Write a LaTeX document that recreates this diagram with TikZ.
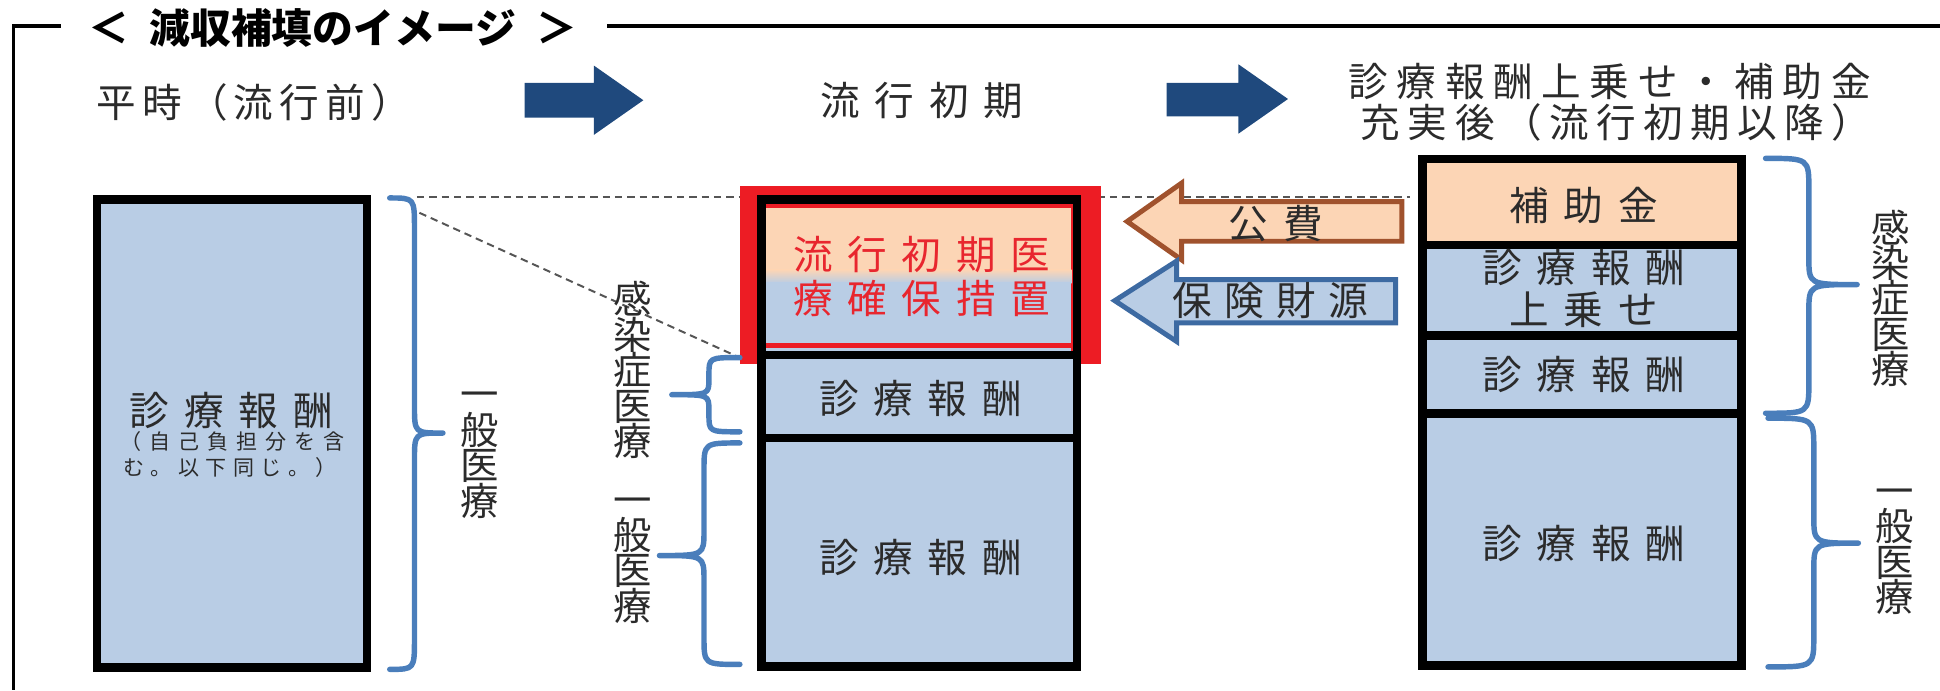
\documentclass[tikz,border=0pt]{standalone}
\usepackage{fontspec}
\newfontfamily\jp{Noto Sans CJK JP}
\definecolor{boxblue}{HTML}{B9CDE5}
\definecolor{peach}{HTML}{FCD5B5}
\definecolor{braceblue}{HTML}{4A7EBB}
\definecolor{arrowblue}{HTML}{1F497D}
\definecolor{redbox}{HTML}{ED1C24}
\definecolor{redtext}{HTML}{E8262E}
\definecolor{brownline}{HTML}{A0522D}
\definecolor{blueline}{HTML}{3D6AA2}
\definecolor{txtc}{HTML}{2B2B2B}
\definecolor{dashc}{HTML}{555555}
\makeatletter
\newcommand\spc[2]{\def\spc@sep{}\@tfor\spc@c:=#2\do{\spc@sep\spc@c\def\spc@sep{\kern#1}}}
\makeatother
\newcommand\brc[8]{\draw[brace] (#1,#4) .. controls (#2,#4) .. (#2,#4+#7) -- (#2,#5-#8) .. controls (#2,#5) .. (#3,#5) .. controls (#2,#5) .. (#2,#5+#8) -- (#2,#6-#7) .. controls (#2,#6) .. (#1,#6);}
\begin{document}
\begin{tikzpicture}[x=0.5pt,y=-0.5pt,
  frame/.style={draw=black, line width=1.4pt},
  blk/.style={draw=black, line width=3.5pt},
  brace/.style={draw=braceblue, line width=2.2pt, line cap=round, line join=round},
  txt/.style={font=\jp\fontsize{16}{18}\selectfont, text=txtc, inner sep=0pt},
  vtxt/.style={font=\jp\fontsize{15.5}{14.3}\selectfont, text=txtc, align=center, inner sep=0pt},
  small/.style={font=\jp\fontsize{8.5}{10}\selectfont, text=txtc, inner sep=0pt},
  redt/.style={txt, text=redtext},
  titlet/.style={font=\jp\bfseries\fontsize{16.5}{19}\selectfont, text=black, inner sep=0pt},
  dashl/.style={draw=dashc, line width=0.8pt, dash pattern=on 3pt off 2pt},
]
\useasboundingbox (0,0) rectangle (1568,558);
% frame
\coordinate (f0) at (11,21);
\coordinate (f1) at (49,21);
\coordinate (f2) at (11,558);
\coordinate (f3) at (491,21);
\coordinate (f4) at (1568,21);
\draw[frame] (f1) -- (f0) -- (f2);
\draw[frame] (f3) -- (f4);
\node[titlet] (title) at (269,23) {＜\hspace{0.5em}減収補填のイメージ\hspace{0.5em}＞};
% headers
\node[txt] (h1) at (205,83) {\spc{2.5pt}{平時（流行前）}};
\node[txt] (h2) at (745,81) {\spc{6pt}{流行初期}};
\node[txt] (h3a) at (1301,66) {\spc{3.5pt}{診療報酬上乗せ・補助金}};
\node[txt] (h3b) at (1306,99) {\spc{3pt}{充実後（流行初期以降）}};
% top arrows
\fill[arrowblue] (424,67) -- (480,67) -- (480,53) -- (520,81) -- (480,109) -- (480,95) -- (424,95) -- cycle;
\fill[arrowblue] (943,67) -- (1001,67) -- (1001,52) -- (1041,80) -- (1001,108) -- (1001,94) -- (943,94) -- cycle;
% dashed guide lines
\coordinate (dA) at (337,159);
\coordinate (dB) at (1140,159);
\coordinate (dC) at (339,172);
\coordinate (dD) at (600,290);
\draw[dashl] (dA) -- (dB);
\draw[dashl] (dC) -- (dD);
% left box
\draw[blk, fill=boxblue] (78.5,161.5) rectangle (296.5,539.5);
\node[txt] (l1) at (187,332) {\spc{6pt}{診療報酬}};
\node[small] (l2) at (188,357) {\spc{3.2pt}{（自己負担分を含}};
\node[small] (l3) at (186,378) {\spc{2.6pt}{む。以下同じ。）}};
\brc{315}{335}{358}{160}{350}{541}{25}{22}
\node[vtxt] (lv) at (388,368) {一\\般\\医\\療};
% middle stack
\fill[redbox] (598,150) rectangle (890,294);
\fill[peach] (619,163) rectangle (866,219);
\shade[top color=peach, bottom color=boxblue] (619,218) rectangle (866,229);
\fill[boxblue] (619,228) rectangle (866,284);
\draw[redbox, line width=2pt] (619,166) -- (866,166);
\draw[redbox, line width=2pt] (619,279) -- (866,279);
\fill[boxblue] (615.5,287) rectangle (870.5,538.5);
\draw[blk] (615.5,161.5) rectangle (870.5,538.5);
\draw[blk] (615.5,287) -- (870.5,287);
\draw[blk] (615.5,354) -- (870.5,354);
\node[redt] (m0a) at (745,206) {\spc{6pt}{流行初期医}};
\node[redt] (m0b) at (745,241) {\spc{6pt}{療確保措置}};
\node[txt] (m1) at (744,322) {\spc{6pt}{診療報酬}};
\node[txt] (m2) at (744,451) {\spc{6pt}{診療報酬}};
\brc{598}{573}{543}{289}{319}{349}{14}{13}
\brc{598}{569}{533}{358}{449}{537}{22}{20}
\node[vtxt] (mv1) at (511,299) {感\\染\\症\\医\\療};
\node[vtxt] (mv2) at (511,453) {一\\般\\医\\療};
% block arrows
\filldraw[fill=peach, draw=brownline, line width=2pt, line join=miter] (911,179) -- (955,148) -- (955,163) -- (1133,163) -- (1133,195) -- (955,195) -- (955,210) -- cycle;
\node[txt] (a1) at (1031,181) {\spc{6pt}{公費}};
\filldraw[fill=boxblue, draw=blueline, line width=2pt, line join=miter] (901,243) -- (951,211) -- (951,226) -- (1128,226) -- (1128,261) -- (951,261) -- (951,276) -- cycle;
\node[txt] (a2) at (1027,243) {\spc{5pt}{保険財源}};
% right stack
\fill[peach] (1149.5,128.5) rectangle (1407.5,198);
\fill[boxblue] (1149.5,198) rectangle (1407.5,538);
\draw[blk] (1149.5,128.5) rectangle (1407.5,538);
\draw[blk] (1149.5,198) -- (1407.5,198);
\draw[blk] (1149.5,271) -- (1407.5,271);
\draw[blk] (1149.5,334) -- (1407.5,334);
\node[txt] (r1) at (1280,166) {\spc{6pt}{補助金}};
\node[txt] (r2a) at (1280,216) {\spc{6pt}{診療報酬}};
\node[txt] (r2b) at (1280,250) {\spc{6pt}{上乗せ}};
\node[txt] (r3) at (1280,303) {\spc{6pt}{診療報酬}};
\node[txt] (r4) at (1280,439) {\spc{6pt}{診療報酬}};
\brc{1427}{1462}{1501}{128}{230}{334}{25}{22}
\brc{1429}{1466}{1502}{338}{439}{539}{25}{22}
\node[vtxt] (rv1) at (1528,241) {感\\染\\症\\医\\療};
\node[vtxt] (rv2) at (1531,446) {一\\般\\医\\療};
\end{tikzpicture}
\end{document}
